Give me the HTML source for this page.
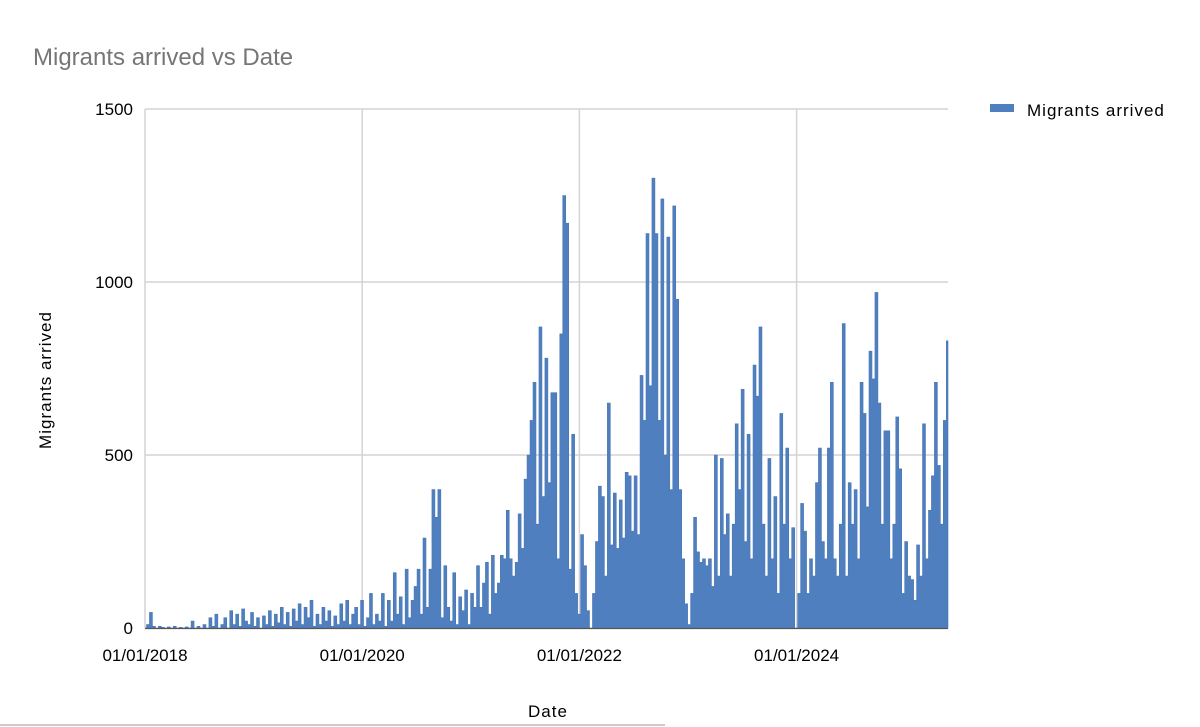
<!DOCTYPE html>
<html><head><meta charset="utf-8"><style>
body{margin:0;background:#fff;}
svg{display:block;font-family:"Liberation Sans",sans-serif;}
</style></head><body>
<svg width="1200" height="727" viewBox="0 0 1200 727">
<text x="33" y="65" font-size="24" fill="#767676">Migrants arrived vs Date</text>
<g id="grid"></g>
<g id="ylabels"></g>
<g id="xlabels"></g>
<path id="area" fill="#4f7fbe" stroke="#4a78b6" stroke-width="0.6"></path>
<line x1="145" y1="628.5" x2="948" y2="628.5" stroke="#555" stroke-width="1.2"/>
<text x="548" y="717" font-size="17" text-anchor="middle" letter-spacing="1" fill="#000">Date</text>
<text transform="translate(51,380) rotate(-90)" font-size="17" text-anchor="middle" letter-spacing="1" fill="#000">Migrants arrived</text>
<g>
<rect x="990" y="104" width="24" height="8" fill="#4f7fbe"/>
<text x="1027" y="116" font-size="17" letter-spacing="1" fill="#000">Migrants arrived</text>
</g>
<line x1="0" y1="725" x2="665" y2="725" stroke="#999" stroke-width="1"/>
</svg>
<script>
const yTicks=[0,500,1000,1500];
const xTickLabels=["01/01/2018","01/01/2020","01/01/2022","01/01/2024"];
const xTickYears=[2018,2020,2022,2024];
const stepDays=10;
const values=[
0,10,45,5,0,5,2,0,3,0,
5,0,2,0,3,0,20,0,5,0,
10,0,30,5,40,0,10,30,0,50,
10,40,5,55,20,10,45,5,30,0,
35,10,50,5,40,15,60,10,45,5,
55,20,70,10,60,30,80,5,40,10,
60,20,50,5,35,10,70,20,80,10,
40,60,10,80,5,30,100,10,40,20,
100,5,80,20,160,40,90,10,170,30,
80,120,170,40,260,60,170,400,320,400,
30,180,60,20,160,10,90,50,110,10,
100,60,180,60,130,190,40,210,100,130,
210,200,340,200,150,190,330,230,430,500,
600,710,300,870,380,780,420,680,680,200,
850,1250,1170,170,560,100,40,270,180,50,
0,100,250,410,380,150,650,240,390,230,
370,260,450,440,280,440,270,730,600,1140,
700,1300,1140,600,1240,500,1130,400,1220,950,
400,200,70,10,100,320,220,190,200,180,
200,120,500,150,490,270,330,150,300,590,
400,690,250,560,200,760,670,870,300,150,
490,200,380,100,620,300,520,200,290,0,
100,360,280,100,200,150,420,520,250,200,
520,710,200,150,300,880,150,420,300,400,
200,710,620,350,800,720,970,650,300,570,
570,200,300,610,460,100,250,150,140,80,
240,150,590,200,340,440,710,470,300,600,
830];
const x0=145,x1=948,y0=628,y1=109,yMax=1500;
const pxPerYear=108.6;
function xYear(yr){return x0+(yr-2018)*pxPerYear;}
function xIdx(i){return xYear(2018+i*stepDays/365.25);}
function yV(v){return y0-(v/yMax)*(y0-y1);}
const NS="http://www.w3.org/2000/svg";
const grid=document.getElementById('grid');
yTicks.forEach(t=>{
 if(t===0)return;
 const l=document.createElementNS(NS,'line');
 l.setAttribute('x1',x0);l.setAttribute('x2',x1);
 l.setAttribute('y1',yV(t));l.setAttribute('y2',yV(t));
 l.setAttribute('stroke','#d4d4d4');l.setAttribute('stroke-width','1.5');
 
 
 grid.appendChild(l);
});
xTickYears.forEach(yr=>{
 const l=document.createElementNS(NS,'line');
 l.setAttribute('x1',xYear(yr));l.setAttribute('x2',xYear(yr));
 l.setAttribute('y1',y1);l.setAttribute('y2',y0);
 l.setAttribute('stroke','#d4d4d4');l.setAttribute('stroke-width','1.5');
 
 
 grid.appendChild(l);
});
const yl=document.getElementById('ylabels');
yTicks.forEach(t=>{
 const tx=document.createElementNS(NS,'text');
 tx.setAttribute('x',133);tx.setAttribute('y',yV(t)+6);
 tx.setAttribute('text-anchor','end');tx.setAttribute('font-size','17');
 tx.textContent=t;
 
 
 yl.appendChild(tx);
});
const xl=document.getElementById('xlabels');
xTickYears.forEach((yr,k)=>{
 const tx=document.createElementNS(NS,'text');
 tx.setAttribute('x',xYear(yr));tx.setAttribute('y',661);
 tx.setAttribute('text-anchor','middle');tx.setAttribute('font-size','17');
 tx.textContent=xTickLabels[k];
 
 
 xl.appendChild(tx);
});
const half=(xIdx(1)-xIdx(0))/2;
let d='M'+x0+','+y0;
values.forEach((v,i)=>{
 const xa=Math.max(x0,xIdx(i)-half), xb=Math.min(x1,xIdx(i)+half);
 const y=yV(v).toFixed(2);
 d+=' L'+xa.toFixed(2)+','+y+' L'+xb.toFixed(2)+','+y;
});
d+=' L'+x1+','+y0+' Z';
document.getElementById('area').setAttribute('d',d);
</script>
</body></html>
